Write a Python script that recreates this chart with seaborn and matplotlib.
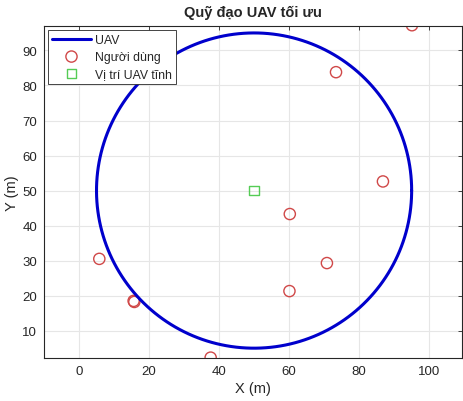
import numpy as np
import pandas as pd
import matplotlib
matplotlib.use("Agg")
import matplotlib.pyplot as plt
import seaborn as sns

# Data
center_x = 50.0
center_y = 50.0
radius = 45.0
user_x = [95.1, 73.4, 86.8, 60.2, 70.8, 60.1, 15.6, 15.8, 5.8, 37.6]
user_y = [97.2, 83.8, 52.6, 43.3, 29.3, 21.3, 18.5, 18.2, 30.5, 2.3]
static_x = [50.0]
static_y = [50.0]
x_ticks = [0, 20, 40, 60, 80, 100]
y_ticks = [10, 20, 30, 40, 50, 60, 70, 80, 90]

theta = np.linspace(0, 2 * np.pi, 400)
traj = pd.DataFrame({"x": center_x + radius * np.cos(theta),
                     "y": center_y + radius * np.sin(theta),
                     "order": np.arange(len(theta))})
users = pd.DataFrame({"x": user_x, "y": user_y})
static = pd.DataFrame({"x": static_x, "y": static_y})

sns.set_style("white")
plt.rcParams['font.family'] = ['Liberation Sans', 'DejaVu Sans']

fig = plt.figure(figsize=(4.63, 4.02), dpi=100)
ax = fig.add_axes([0.095, 0.107, 0.903, 0.826])

sns.lineplot(data=traj, x="x", y="y", sort=False, estimator=None, ax=ax,
             color="#0000CC", linewidth=2.2, label="UAV")
sns.scatterplot(data=users, x="x", y="y", ax=ax, marker="o", s=65,
                facecolors="none", edgecolor="#D04848", linewidth=1.0,
                label="Người dùng")
sns.scatterplot(data=static, x="x", y="y", ax=ax, marker="s", s=50,
                facecolors="none", edgecolor="#55CC55", linewidth=1.0,
                label="Vị trí UAV tĩnh")

ax.set_xlim(-10, 109.4)
ax.set_ylim(2.2, 97.0)
ax.set_xticks(x_ticks)
ax.set_yticks(y_ticks)
ax.grid(True, color="#E6E6E6", linewidth=0.8)
ax.set_axisbelow(True)
for s in ax.spines.values():
    s.set_color("#262626")
    s.set_linewidth(0.8)
ax.tick_params(direction="in", length=3, width=0.6, colors="#262626",
               labelsize=9.5, top=True, right=True, labeltop=False, labelright=False,
               pad=5)
ax.set_xlabel("X (m)", fontsize=10.5, color="#262626", labelpad=3)
ax.set_ylabel("Y (m)", fontsize=10.5, color="#262626", labelpad=2)
ax.set_title("Quỹ đạo UAV tối ưu", fontsize=10.5, fontweight="bold", pad=7)

leg = ax.legend(loc="upper left", fontsize=8.8, frameon=True, fancybox=False,
                borderaxespad=0.3, handlelength=3.2, handletextpad=0.3,
                borderpad=0.35, labelspacing=0.4)
leg.get_frame().set_edgecolor("#262626")
leg.get_frame().set_linewidth(0.6)
leg.get_frame().set_alpha(1)

fig.savefig("out.png", dpi=100)
